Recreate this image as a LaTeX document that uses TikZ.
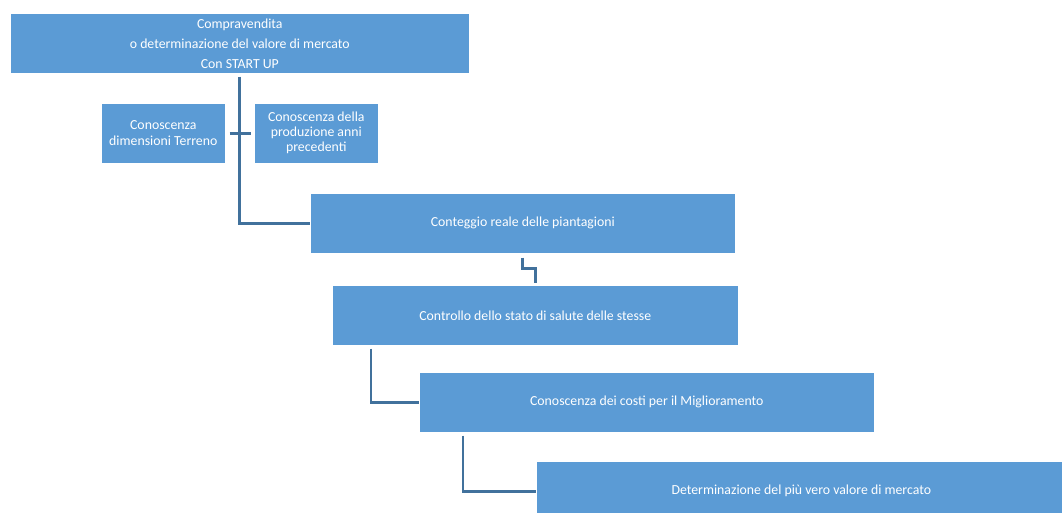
\documentclass[tikz,border=0pt]{standalone}
\usepackage{fontspec}
\setmainfont{Carlito}
\definecolor{boxblue}{HTML}{5B9BD5}
\definecolor{linkblue}{HTML}{41719C}
\begin{document}
\begin{tikzpicture}[x=1pt,y=1pt,
  box/.style={fill=boxblue, draw=white, line width=0.6pt, text=white, align=center,
    anchor=north west, inner sep=0pt, font=\fontsize{13.8}{16}\selectfont},
  link/.style={draw=linkblue, line width=2.8pt}]
\useasboundingbox (0,0) rectangle (1062,-513);
\node[box, minimum width=459pt, minimum height=60pt, font=\fontsize{13.8}{20}\selectfont] (top) at (10,-13)
  {Compravendita\\o determinazione del valore di mercato\\Con START UP};
\node[box, minimum width=124pt, minimum height=60pt] (left) at (101,-103)
  {Conoscenza\\dimensioni Terreno};
\node[box, minimum width=124pt, minimum height=60pt, font=\fontsize{13.8}{15}\selectfont] (right) at (254,-103)
  {Conoscenza della\\produzione anni\\precedenti};
\node[box, minimum width=425pt, minimum height=60pt] (cont) at (310,-193)
  {Conteggio reale delle piantagioni};
\node[box, minimum width=406pt, minimum height=60pt] (ctrl) at (332,-285)
  {Controllo dello stato di salute delle stesse};
\node[box, minimum width=455pt, minimum height=60pt] (costi) at (419,-372)
  {Conoscenza dei costi per il Miglioramento};
\node[box, minimum width=530pt, minimum height=60pt] (det) at (536,-461)
  {Determinazione del più vero valore di mercato};
\draw[link] ([yshift=-3pt]top.south) |- (cont.west);
\draw[link] ([xshift=4pt]left.east) -- ([xshift=-3pt]right.west);
\draw[link] ([yshift=-4pt]cont.south) -- ++(0,-11) -| ([yshift=2pt]ctrl.north);
\draw[link] ([shift={(39pt,-3pt)}]ctrl.south west) |- (costi.west);
\draw[link] ([shift={(44pt,-3pt)}]costi.south west) |- (det.west);
\end{tikzpicture}
\end{document}
